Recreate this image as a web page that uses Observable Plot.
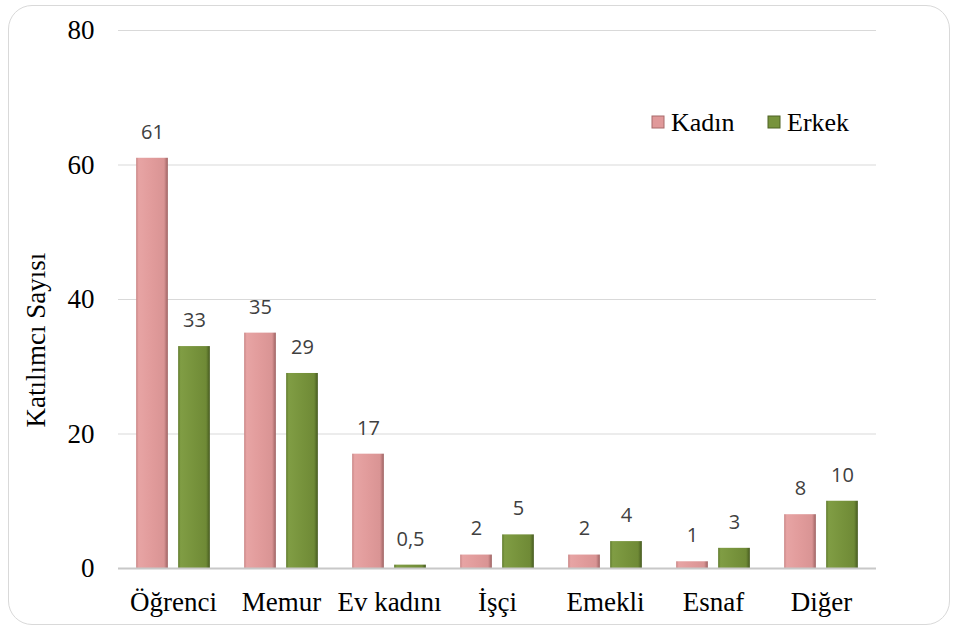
<!DOCTYPE html>
<html>
<head>
<meta charset="utf-8">
<script src="https://cdn.jsdelivr.net/npm/d3@7"></script>
<script src="https://cdn.jsdelivr.net/npm/@observablehq/plot@0.6"></script>
<style>
  body { margin: 0; background: #fff; }
  #wrap { position: relative; width: 954px; height: 631px; overflow: hidden; }
  #frame { position: absolute; left: 8px; top: 5px; width: 940px; height: 618px; border: 1.5px solid #d9d9d9; border-radius: 24px; pointer-events: none; }
</style>
</head>
<body>
<div id="wrap">
  <div id="chart"></div>
  <div id="frame"></div>
</div>
<script>
const categories = ["Öğrenci", "Memur", "Ev kadını", "İşçi", "Emekli", "Esnaf", "Diğer"];
const series = ["Kadın", "Erkek"];
const kadin = [61, 35, 17, 2, 2, 1, 8];
const erkek = [33, 29, 0.5, 5, 4, 3, 10];
const yTicks = [0, 20, 40, 60, 80];
const yTitle = "Katılımcı Sayısı";
const seriesColors = ["#e0999a", "#77933c"];
const seriesEdges = ["#a86a6a", "#4f6324"];

const data = categories.flatMap((c, i) => [
  {category: c, series: series[0], value: kadin[i]},
  {category: c, series: series[1], value: erkek[i]}
]);
const fmt = v => String(v).replace(".", ",");

const W = 954, ML = 118, MR = 78;
const band = (W - ML - MR) / categories.length;
const barW = 32, gap = 10;
const outer = (band - 2 * barW - gap) / 2;
const off = (barW + gap) / 2;
const serif = "Liberation Serif, Times New Roman, serif";

const labelStyle = {fontFamily: "'Open Sans', 'Noto Sans', sans-serif", fontSize: 20, fill: "#404040", lineAnchor: "middle", dy: -26};

const svg = Plot.plot({
  width: W, height: 631,
  marginLeft: ML, marginRight: MR, marginTop: 30, marginBottom: 63,
  style: {fontFamily: serif, fontSize: "27px", color: "#000", background: "transparent", overflow: "visible"},
  x: {domain: categories, padding: 0, tickSize: 0, tickPadding: 23, label: null},
  y: {domain: [0, 80], ticks: yTicks, tickSize: 0, tickPadding: 24, label: null},
  marks: [
    Plot.ruleY(yTicks.filter(d => d > 0), {stroke: "#d9d9d9", strokeWidth: 1}),
    Plot.barY(data.filter(d => d.series === series[0]), {x: "category", y: "value", fill: "url(#gK)", insetLeft: outer, insetRight: band - outer - barW}),
    Plot.barY(data.filter(d => d.series === series[1]), {x: "category", y: "value", fill: "url(#gE)", insetLeft: outer + barW + gap, insetRight: outer}),
    Plot.ruleY([0], {stroke: "#c8c8c8", strokeWidth: 2}),
    Plot.text(data.filter(d => d.series === series[0]), {x: "category", y: "value", text: d => fmt(d.value), dx: -off, ...labelStyle}),
    Plot.text(data.filter(d => d.series === series[1]), {x: "category", y: "value", text: d => fmt(d.value), dx: off, ...labelStyle})
  ]
});

svg.insertAdjacentHTML("afterbegin", `<defs>
  <linearGradient id="gK" x1="0" x2="1" y1="0" y2="0">
    <stop offset="0" stop-color="#c98585"/>
    <stop offset="0.08" stop-color="#e7a4a4"/>
    <stop offset="0.5" stop-color="#e19b9b"/>
    <stop offset="0.88" stop-color="#d99494"/>
    <stop offset="1" stop-color="#9d6262"/>
  </linearGradient>
  <linearGradient id="gE" x1="0" x2="1" y1="0" y2="0">
    <stop offset="0" stop-color="#5f7a2c"/>
    <stop offset="0.08" stop-color="#809d44"/>
    <stop offset="0.5" stop-color="#77933c"/>
    <stop offset="0.88" stop-color="#6f8a36"/>
    <stop offset="1" stop-color="#465a20"/>
  </linearGradient>
</defs>`);

const s = d3.select(svg);
// y-axis title
s.append("text")
  .attr("transform", "translate(45,340) rotate(-90)")
  .attr("text-anchor", "middle")
  .style("font-family", serif).style("font-size", "27px").attr("fill", "#000")
  .text(yTitle);
// legend
const lg = s.append("g").style("font-family", serif).style("font-size", "26px").attr("fill", "#000").attr("text-anchor", "start");
const legendX = [652, 768];
series.forEach((name, i) => {
  lg.append("rect").attr("x", legendX[i]).attr("y", 116).attr("width", 12).attr("height", 12)
    .attr("fill", seriesColors[i]).attr("stroke", seriesEdges[i]).attr("stroke-width", 1);
  lg.append("text").attr("x", legendX[i] + 19).attr("y", 131).text(name);
});

document.getElementById("chart").appendChild(svg);
</script>
</body>
</html>
